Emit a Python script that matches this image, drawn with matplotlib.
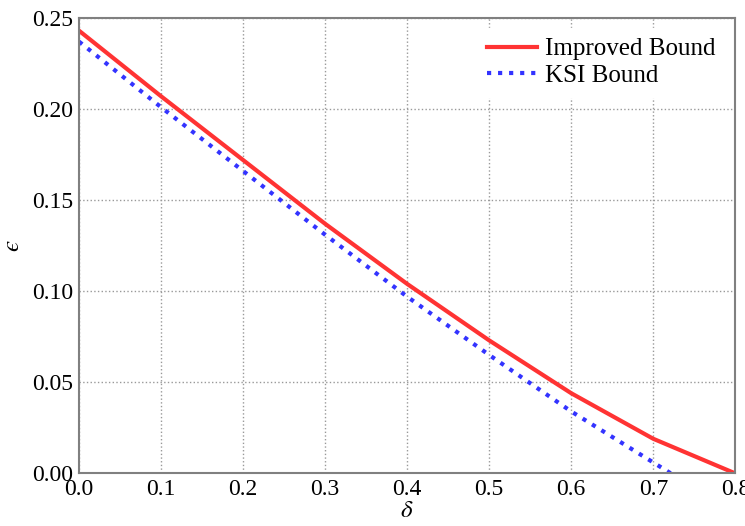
import matplotlib
matplotlib.use('Agg')
import matplotlib.pyplot as plt
import numpy as np

plt.rcParams['font.family'] = ['Liberation Serif', 'DejaVu Serif']
plt.rcParams['mathtext.fontset'] = 'stix'

delta = [0.0, 0.1, 0.2, 0.3, 0.4, 0.5, 0.6, 0.7, 0.8]
improved = [0.243, 0.207, 0.172, 0.137, 0.104, 0.073, 0.044, 0.019, 0.0]
ksi = [0.237, 0.201, 0.166, 0.131, 0.097, 0.065, 0.034, 0.006, -0.022]

fig, ax = plt.subplots(figsize=(7.45, 5.26), dpi=100)
fig.subplots_adjust(left=0.106, right=0.987, top=0.966, bottom=0.1)

ax.plot(delta, improved, color='#ff3333', linestyle='-', linewidth=3, label='Improved Bound')
ax.plot(delta, ksi, color='#3333ff', linestyle=':', linewidth=3, label='KSI Bound')

ax.set_xlim(0, 0.8)
ax.set_ylim(0, 0.25)
ax.set_xticks(np.arange(0, 0.81, 0.1))
ax.set_yticks(np.arange(0, 0.251, 0.05))
ax.set_xticklabels(['%.1f' % v for v in np.arange(0, 0.81, 0.1)])
ax.set_yticklabels(['%.2f' % v for v in np.arange(0, 0.251, 0.05)])
ax.tick_params(length=0, labelsize=17, pad=4)
ax.set_xlabel(r'$\delta$', fontsize=18, labelpad=0)
ax.set_ylabel('$\u03f5$', fontsize=18, labelpad=6)
ax.grid(True, color='#999999', linestyle=':', linewidth=1)
for s in ax.spines.values():
    s.set_color('#808080')
    s.set_linewidth(1.5)

leg = ax.legend(loc='upper right', fontsize=18, frameon=True, fancybox=False,
                handlelength=2.0, handletextpad=0.3, labelspacing=0.15, borderaxespad=0.4)
leg.get_frame().set_edgecolor('white')
leg.get_frame().set_alpha(1)

fig.savefig('out.png', dpi=100)
